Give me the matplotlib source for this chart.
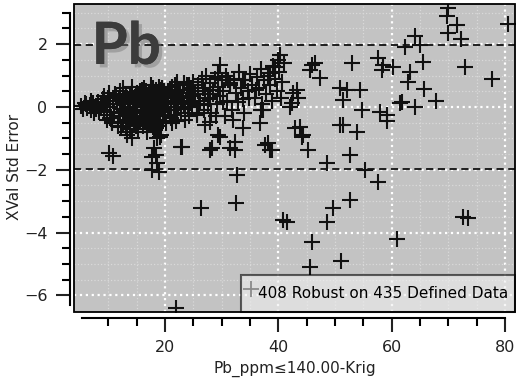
# cross validation standardized errors for Pb
import numpy as np
import matplotlib
matplotlib.use("Agg")
import matplotlib.pyplot as plt
import matplotlib.patheffects as pe
from matplotlib.lines import Line2D
from matplotlib.patches import Rectangle

# dense band of points (low Pb values)
band_x = [5.2, 5.6, 6.0, 6.3, 6.7, 7.0, 7.3, 7.6, 7.9, 8.2, 8.4, 8.7, 5.8, 6.9, 7.4,
          9.0, 9.2, 9.5, 9.8, 10.0, 10.3, 10.5, 10.8, 11.0, 9.3, 10.1, 10.7, 11.2, 9.7,
          11.5, 11.8, 12.0, 12.3, 12.5, 12.8, 13.0, 13.2, 13.5, 13.8, 14.0, 11.7, 12.6, 13.4, 12.1, 13.7, 14.2, 11.4,
          14.4, 14.6, 14.8, 15.0, 15.1, 15.3, 15.5, 15.6, 15.8, 16.0, 16.1, 16.3, 16.4, 16.6, 16.8, 16.9,
          17.1, 17.2, 17.4, 17.5, 17.7, 17.8, 18.0, 18.1, 18.3, 18.4, 18.6, 18.7, 18.9, 19.0, 19.2, 19.3,
          19.5, 19.6, 19.8, 19.9, 20.1, 20.2, 14.9, 15.4, 15.9, 16.2, 16.7, 17.0, 17.6, 18.2, 18.8, 19.4,
          19.7, 14.5, 15.2, 16.5, 17.3, 18.5, 20.0, 15.7, 16.9, 18.0, 19.1, 14.7, 17.9, 19.9,
          12.2, 12.9, 13.6, 14.3, 15.0, 15.7, 16.4, 17.1, 17.8, 18.5, 19.2, 19.9, 20.6, 21.3, 22.0,
          12.4, 13.1, 13.8, 14.5, 15.2, 15.9, 16.6, 17.3, 18.0, 18.7, 19.4, 20.1, 20.8, 21.5, 22.2,
          11.9, 13.3, 14.1, 14.9, 16.0, 16.8, 17.5, 18.3, 19.0, 19.8, 21.0, 22.6, 23.2, 24.1,
          20.5, 20.8, 21.0, 21.3, 21.5, 21.8, 22.0, 22.3, 22.5, 22.8, 23.0, 23.3, 23.5, 23.8, 24.0, 24.3,
          24.5, 24.8, 25.0, 21.2, 22.2, 23.6, 24.6, 20.6, 21.9, 22.9, 23.9, 24.9, 21.7, 23.4,
          25.3, 25.6, 25.9, 26.2, 26.5, 26.8, 27.0, 27.3, 27.6, 27.9, 28.2, 28.5, 28.8, 29.1, 29.4, 29.7,
          30.0, 26.0, 28.0, 29.0, 25.8, 26.7, 27.5, 28.4, 29.3, 30.2,
          30.3, 30.7, 31.0, 31.4, 31.8, 32.2, 32.6, 33.0, 33.4, 33.8, 34.2, 34.6, 35.0, 35.4, 35.8, 36.2,
          32.0, 34.0, 30.5, 31.2, 32.9, 34.8, 36.0,
          36.6, 37.0, 37.4, 37.8, 38.2, 38.6, 39.0, 39.4, 39.8, 40.2, 40.6, 41.0, 37.2, 38.9, 40.5]
band_y = [0.02, -0.05, 0.08, -0.02, 0.05, -0.1, 0.12, 0.0, -0.06, 0.15, -0.15, 0.05, 0.12, 0.18, -0.2,
          0.25, -0.1, 0.1, -0.25, 0.3, 0.0, -0.35, 0.2, -0.15, 0.35, 0.45, -0.5, 0.4, -0.4,
          0.1, -0.3, 0.5, 0.2, -0.5, -0.1, 0.3, -0.6, 0.0, 0.4, -0.3, -0.6, 0.6, -0.4, -0.2, 0.15, 0.65, 0.35,
          0.2, -0.5, 0.4, -0.2, 0.1, -0.7, 0.5, -0.4, 0.0, 0.3, -0.6, 0.6, -0.1, 0.2, -0.3, -0.8,
          0.45, -0.5, 0.1, 0.7, -0.2, -0.65, 0.3, 0.0, -0.4, 0.55, -0.1, 0.2, -0.6, 0.4, -0.3, 0.05,
          0.6, -0.45, 0.15, -0.15, 0.35, -0.5, -0.35, 0.25, -0.35, 0.0, 0.5, -0.15, 0.35, -0.25, 0.45, -0.05,
          0.3, 0.0, 0.35, -0.45, -0.35, 0.15, -0.1, 0.15, 0.1, -0.55, 0.25, -0.15, 0.6, 0.5,
          0.1, -0.2, 0.25, -0.1, 0.45, -0.3, 0.4, -0.35, 0.5, -0.3, 0.55, -0.25, 0.2, 0.35, 0.15,
          -0.05, 0.35, -0.15, 0.3, -0.55, 0.2, -0.2, 0.25, 0.15, -0.45, 0.3, 0.1, 0.55, -0.25, 0.5,
          0.3, -0.45, 0.45, -0.6, 0.55, -0.6, 0.5, -0.7, 0.65, 0.15, -0.35, 0.45, 0.55, 0.0,
          0.5, -0.3, 0.2, 0.65, -0.1, 0.4, -0.45, 0.1, 0.55, -0.2, 0.3, 0.75, -0.05, 0.45, 0.2, -0.3,
          0.6, 0.1, 0.8, -0.5, 0.8, -0.4, 0.35, 0.0, 0.0, 0.2, 0.7, 0.4, 0.7, 0.1,
          0.4, -0.2, 0.7, 0.2, 0.9, -0.1, 0.5, 1.0, 0.3, 0.75, -0.2, 0.55, 0.9, 0.1, 0.65, 0.35,
          0.85, 0.05, 0.25, -0.3, 0.5, 0.6, 0.1, 0.4, 0.95, 0.15,
          0.5, 1.0, 0.2, 0.7, -0.1, 0.9, 0.45, 1.1, 0.6, 0.25, 0.85, 0.5, 1.05, 0.7, 0.3, 0.95,
          -0.4, -0.2, -0.3, 0.85, 0.15, 0.3, 0.55,
          0.6, 1.2, 0.85, 0.4, 1.0, 0.7, 1.3, 0.9, 0.5, 1.1, 0.8, 1.4, 0.1, 0.2, 0.3]

# scattered points (outside the band)
spread_x = [69.9, 69.7, 71.5, 69.9, 72.2, 80.5, 64.2, 62.3, 65.0, 65.5, 72.9, 77.7, 63.2, 62.9, 65.7,
            61.8, 64.1, 67.8,
            46.5, 45.6, 47.3, 45.9, 53.0, 57.6, 58.4, 60.2, 58.3, 50.9, 52.1, 54.4, 51.4, 54.7, 57.9,
            59.2, 61.4, 51.4, 39.9, 39.0, 43.3, 43.5, 42.0, 42.6, 42.4,
            42.9, 44.2, 45.2, 38.2, 38.9, 37.3, 50.9, 53.9, 52.6, 48.6, 55.3, 57.6, 52.6, 49.6, 48.6,
            60.9, 45.9, 51.0, 45.6, 72.5, 73.4, 40.8, 41.5, 59.2, 36.8, 44.3,
            17.7, 18.9, 32.7, 32.5, 26.3, 21.9, 10.1, 10.9, 17.7, 18.6,
            23.0, 27.9, 31.5, 29.7, 32.3, 27.1, 13.3, 19.1, 18.2, 29.7, 29.3, 31.4, 33.8, 40.3, 39.4,
            38.5, 27.9, 29.3, 28.3, 32.3, 33.8, 37.6, 38.5, 43.8, 25.6, 36.9, 24.4,
            10.3, 10.6, 12.3, 13.3, 14.2, 13.9, 18.6, 19.3, 18.1, 18.4, 22.8, 21.6, 21.2, 24.2]
spread_y = [3.16, 2.91, 2.62, 2.36, 2.17, 2.65, 2.25, 1.92, 1.98, 1.44, 1.28, 0.89, 1.12, 0.80, 0.58,
            0.16, 0.0, 0.19,
            1.41, 1.18, 0.93, 1.34, 1.41, 1.57, 1.34, 1.28, 1.18, 0.61, 0.54, 0.54, 0.22, -0.10, -0.16,
            -0.26, 0.13, -0.58, 1.5, 1.28, 0.54, 0.29, 0.0, 0.45, 0.13,
            -0.67, -0.96, -1.37, -1.15, -1.37, -0.10, -0.58, -0.80, -1.53, -1.79, -2.01, -2.40, -2.97, -3.23, -3.67,
            -4.19, -4.31, -4.89, -5.11, -3.51, -3.53, -3.61, -3.67, -0.45, -0.51, -0.89,
            -2.01, -2.08, -2.17, -3.07, -3.23, -6.39, -1.47, -1.55, -1.6, -1.79,
            -1.28, -1.37, -1.31, -0.96, -1.12, -0.58, -0.89, -0.96, -0.74, 1.34, 1.09, 0.77, 0.86, 1.66, 1.28,
            1.09, -0.48, -0.89, -1.31, -1.37, -0.67, -1.21, -1.37, -0.64, -0.26, -0.1, 0.13,
            -0.35, -0.48, -0.64, -0.80, -0.99, -0.7, -0.99, -0.89, -1.31, -1.53, -1.28, 0.13, 0.48, 0.70]

legend_text = "408 Robust on 435 Defined Data"

fig = plt.figure(figsize=(5.16, 3.81), dpi=100)
ax = fig.add_axes([74 / 516, 1 - 312 / 381, 441 / 516, 308 / 381])
ax.set_facecolor("#c3c3c3")

# grid
ax.set_xticks([20, 40, 60, 80])
ax.set_xticks(np.arange(10, 81, 5), minor=True)
ax.set_yticks([-6, -4, -2, 0, 2])
ax.set_yticks(np.arange(-6, 3.01, 0.5), minor=True)
ax.grid(which="minor", color="#dadada", linestyle=":", linewidth=0.9, zorder=0)
ax.grid(which="major", color="white", linestyle=":", linewidth=1.6, zorder=0)
ax.set_axisbelow(True)

# +/- 1.96 limits
ax.axhline(1.96, color="#111111", linestyle="--", linewidth=1.3, dashes=(4, 2.5), zorder=2)
ax.axhline(-1.96, color="#111111", linestyle="--", linewidth=1.3, dashes=(4, 2.5), zorder=2)

ax.plot(band_x, band_y, linestyle="none", marker="+", ms=11.5, mew=1.5, color="#111111", zorder=3)
ax.plot(spread_x, spread_y, linestyle="none", marker="+", ms=11.5, mew=1.5, color="#111111", zorder=3)

ax.set_xlim(3.94, 81.76)
ax.set_ylim(-6.53, 3.28)

# offset axis lines plus a closed frame
for s in ["top", "right"]:
    ax.spines[s].set_visible(False)
ax.spines["left"].set_position(("outward", 3))
ax.spines["bottom"].set_position(("outward", 4.5))
ax.spines["left"].set_bounds(-6.3, 3.0)
ax.spines["bottom"].set_bounds(5.4, 80.0)
ax.spines["left"].set_linewidth(1.5)
ax.spines["bottom"].set_linewidth(1.5)
ax.add_patch(Rectangle((0, 0), 1, 1, transform=ax.transAxes, fill=False,
                       edgecolor="black", linewidth=1.3, clip_on=False, zorder=8))

ax.tick_params(which="major", length=10, width=1.5, labelsize=11.5, pad=6, colors="#222222")
ax.tick_params(which="minor", length=6, width=1.5)
ax.set_xlabel("Pb_ppm\u2264140.00-Krig", fontsize=11, color="#222222", labelpad=4)
ax.set_ylabel("XVal Std Error", fontsize=11, color="#222222")
ax.yaxis.set_label_coords(-0.118, 0.47)

# big element label
ax.text(0.04, 0.945, "Pb", transform=ax.transAxes, fontsize=42, fontweight="bold",
        family="Lato", color="#3c3c3c", va="top", ha="left", zorder=4,
        path_effects=[pe.withSimplePatchShadow(offset=(2.5, -2.5), shadow_rgbFace="#777777", alpha=0.45),
                      pe.Normal()])

handle = Line2D([], [], linestyle="none", marker="+", ms=11, mew=1.3, color="#8a8a8a")
leg = ax.legend([handle], [legend_text], loc="lower left", bbox_to_anchor=(0.379, 0, 0.621, 0.162),
                mode="expand", borderaxespad=0, fancybox=False, edgecolor="black",
                facecolor="#f0f0f0", framealpha=0.6, fontsize=11, handlelength=0.7,
                handletextpad=0.1, handleheight=2.4, borderpad=0.3)
leg.get_frame().set_linewidth(1.5)
leg.set_zorder(7)

plt.savefig("out.png", dpi=100)
